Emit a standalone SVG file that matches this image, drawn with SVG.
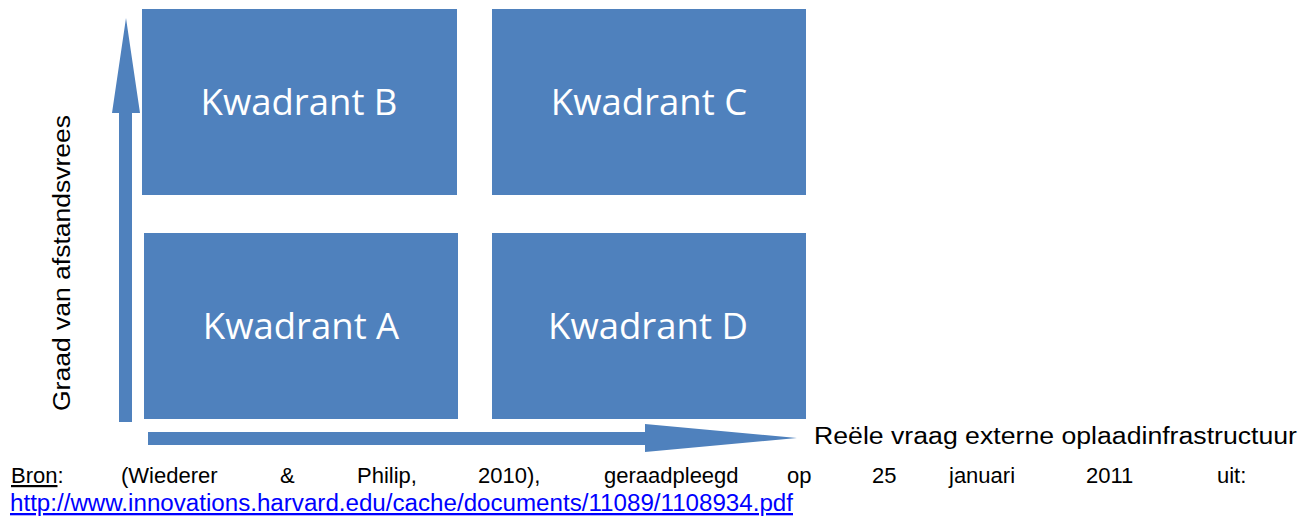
<svg xmlns="http://www.w3.org/2000/svg" width="1312" height="518" viewBox="0 0 1312 518">
  <style>
    .quad { fill: #4F81BD; }
    .qlabel { fill: #FFFFFF; font-family: "Open Sans", "Noto Sans", sans-serif; font-size: 36.5px; text-anchor: middle; }
    .axis { fill: #4F81BD; }
    .axislabel { fill: #000000; font-family: "Liberation Sans", Arial, sans-serif; font-size: 23.5px; }
    .src { fill: #000000; font-family: "Liberation Sans", Arial, sans-serif; font-size: 22px; }
    .link { fill: #0000FF; text-decoration: underline; font-size: 23px; }
  </style>
  <rect width="1312" height="518" fill="#FFFFFF"/>

  <g id="kwadrant-b">
    <rect class="quad" x="142" y="9" width="315" height="186"/>
    <text class="qlabel" x="299" y="115">Kwadrant B</text>
  </g>
  <g id="kwadrant-c">
    <rect class="quad" x="492" y="9" width="314" height="186"/>
    <text class="qlabel" x="649" y="115">Kwadrant C</text>
  </g>
  <g id="kwadrant-a">
    <rect class="quad" x="144" y="233" width="314" height="186"/>
    <text class="qlabel" x="301" y="339">Kwadrant A</text>
  </g>
  <g id="kwadrant-d">
    <rect class="quad" x="492" y="233" width="314" height="186"/>
    <text class="qlabel" x="648" y="339">Kwadrant D</text>
  </g>

  <g id="connectors">
    <!-- vertical axis arrow -->
    <polygon class="axis" points="119,422 119,113 112,113 126,18 140,113 132,113 132,422"/>
    <!-- horizontal axis arrow -->
    <polygon class="axis" points="148,432 645,432 645,424 797,438 645,452 645,445 148,445"/>
  </g>

  <g id="axis-labels">
    <text class="axislabel" transform="translate(70,263) rotate(-90)" text-anchor="middle" textLength="296" lengthAdjust="spacingAndGlyphs">Graad van afstandsvrees</text>
    <text class="axislabel" x="814" y="444" textLength="483" lengthAdjust="spacingAndGlyphs">Reële vraag externe oplaadinfrastructuur</text>
  </g>

  <g id="source">
    <text class="src" y="483">
      <tspan x="11" text-decoration="underline">Bron</tspan><tspan>:</tspan>
      <tspan x="121">(Wiederer</tspan>
      <tspan x="280">&amp;</tspan>
      <tspan x="357">Philip,</tspan>
      <tspan x="478">2010),</tspan>
      <tspan x="604">geraadpleegd</tspan>
      <tspan x="787">op</tspan>
      <tspan x="872">25</tspan>
      <tspan x="949">januari</tspan>
      <tspan x="1086">2011</tspan>
      <tspan x="1217">uit:</tspan>
    </text>
    <text class="src link" x="10" y="511" textLength="783" lengthAdjust="spacingAndGlyphs">http://www.innovations.harvard.edu/cache/documents/11089/1108934.pdf</text>
  </g>
</svg>
